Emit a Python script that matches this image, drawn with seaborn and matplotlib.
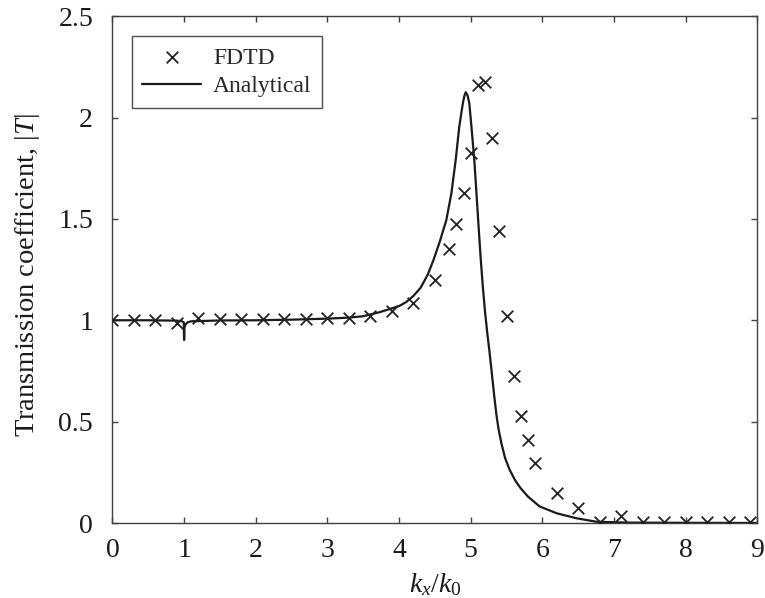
import matplotlib
matplotlib.use("Agg")
import matplotlib.pyplot as plt
import seaborn as sns
import pandas as pd

# FDTD samples
fdtd_x = [0, 0.3, 0.6, 0.9, 1.2, 1.5, 1.8, 2.1, 2.4, 2.7, 3.0, 3.3, 3.6, 3.9, 4.2, 4.5,
          4.7, 4.8, 4.9, 5.0, 5.1, 5.2, 5.3, 5.4, 5.5, 5.6, 5.7, 5.8, 5.9,
          6.2, 6.5, 6.8, 7.1, 7.4, 7.7, 8.0, 8.3, 8.6, 8.9]
fdtd_y = [1.0, 1.0, 1.0, 0.985, 1.01, 1.005, 1.005, 1.005, 1.005, 1.005, 1.01, 1.013, 1.02, 1.047, 1.087, 1.199,
          1.35, 1.475, 1.63, 1.824, 2.16, 2.174, 1.898, 1.442, 1.021, 0.725, 0.528, 0.41, 0.295,
          0.147, 0.072, 0.006, 0.035, 0.004, 0.003, 0.003, 0.003, 0.003, 0.003]

# analytical curve, points
ana_x = [0, 0.5, 0.9, 0.97, 0.995, 1.0, 1.005, 1.02, 1.05, 1.1, 1.5, 2.0, 2.5, 3.0, 3.3, 3.5,
         3.73, 4.0, 4.1, 4.2, 4.3, 4.4, 4.48, 4.57, 4.66, 4.73, 4.79, 4.84, 4.89, 4.91, 4.93,
         4.955, 4.98, 5.01, 5.05, 5.08, 5.11, 5.14, 5.17, 5.2, 5.23, 5.26, 5.30, 5.33, 5.36,
         5.39, 5.43, 5.48, 5.54, 5.62, 5.7, 5.8, 5.96, 6.2, 6.48, 6.76, 7.2, 8.0, 9.0]
ana_y = [1.0, 1.0, 0.998, 0.995, 0.99, 0.903, 0.965, 0.98, 0.99, 0.995, 0.999, 1.0, 1.003, 1.008, 1.013, 1.02,
         1.04, 1.07, 1.09, 1.12, 1.16, 1.225, 1.297, 1.39, 1.495, 1.626, 1.79, 1.955, 2.07, 2.105, 2.125,
         2.11, 2.07, 1.955, 1.79, 1.626, 1.46, 1.30, 1.16, 1.04, 0.94, 0.85, 0.72, 0.62, 0.53,
         0.46, 0.39, 0.32, 0.265, 0.21, 0.17, 0.13, 0.082, 0.048, 0.023, 0.006, 0.002, 0.001, 0.0]

x_ticks = [0, 1, 2, 3, 4, 5, 6, 7, 8, 9]
y_ticks = [0, 0.5, 1, 1.5, 2, 2.5]
y_ticklabels = ["0", "0.5", "1", "1.5", "2", "2.5"]

sns.set_style("ticks")
plt.rcParams["font.family"] = ["Liberation Serif", "DejaVu Serif"]
plt.rcParams["mathtext.fontset"] = "custom"
plt.rcParams["mathtext.rm"] = "Liberation Serif"
plt.rcParams["mathtext.it"] = "Liberation Serif:italic"

df_fdtd = pd.DataFrame({"kx": fdtd_x, "T": fdtd_y})
df_ana = pd.DataFrame({"kx": ana_x, "T": ana_y})

fig = plt.figure(figsize=(7.65, 5.98), dpi=100)
ax = fig.add_axes([0.147, 0.1254, 0.843, 0.8476])

sns.scatterplot(data=df_fdtd, x="kx", y="T", marker="x", s=70, color="#222222",
                linewidth=1.3, label="FDTD", ax=ax, zorder=3)
sns.lineplot(data=df_ana, x="kx", y="T", sort=False, estimator=None, color="#1a1a1a",
             linewidth=1.6, label="Analytical", ax=ax)

ax.set_xlim(0, 9)
ax.set_ylim(0, 2.5)
ax.set_xticks(x_ticks)
ax.set_yticks(y_ticks)
ax.set_yticklabels(y_ticklabels)

for s in ax.spines.values():
    s.set_color("#404040")
    s.set_linewidth(1.0)
ax.tick_params(direction="in", top=True, right=True, length=4, width=1, color="#404040",
               labelsize=20, labelcolor="#1a1a1a")
ax.tick_params(axis="x", pad=11)
ax.tick_params(axis="y", pad=14)

ax.set_xlabel(r"$\mathit{k_x/k_0}$", fontsize=20, color="#1a1a1a")
ax.set_ylabel(r"Transmission coefficient, $|T|$", fontsize=20.5, color="#1a1a1a")
ax.xaxis.set_label_coords(0.5, -0.095)
ax.xaxis.label.set_va("top")
ax.yaxis.set_label_coords(-0.11, 0.49)

h, l = ax.get_legend_handles_labels()
order = [l.index("FDTD"), l.index("Analytical")]
leg = ax.legend([h[i] for i in order], [l[i] for i in order], loc="upper left",
                bbox_to_anchor=(0.03, 0.96), fontsize=17, frameon=True, fancybox=False,
                handlelength=2.5, handletextpad=0.5, labelspacing=0.3, borderpad=0.45,
                borderaxespad=0)
leg.get_frame().set_edgecolor("#222222")
leg.get_frame().set_linewidth(1.0)

plt.savefig("out.png", dpi=100)
